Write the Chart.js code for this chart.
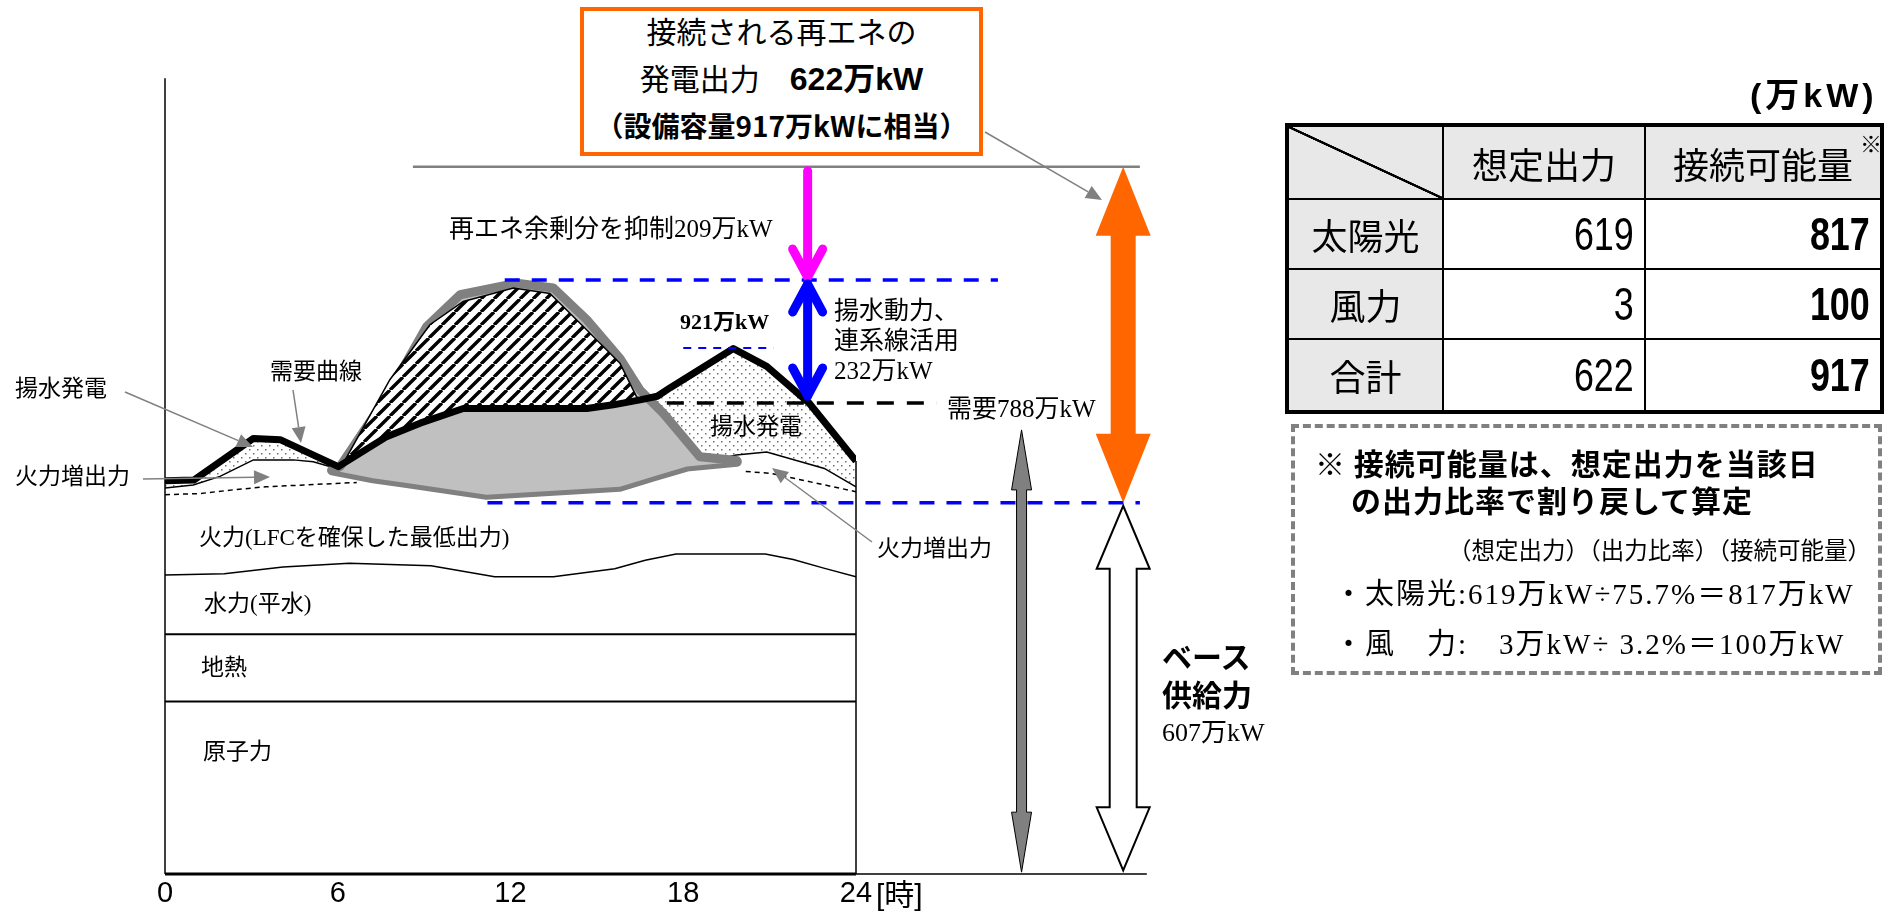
<!DOCTYPE html>
<html lang="ja">
<head>
<meta charset="utf-8">
<title>再エネ接続可能量のイメージ</title>
<script src="https://cdn.jsdelivr.net/npm/chart.js@4.4.1/dist/chart.umd.min.js"></script>
<style>
  html, body { margin: 0; padding: 0; background: #fff; }
  #wrap { position: relative; width: 1885px; height: 917px; overflow: hidden; }
  #chart { position: absolute; left: 0; top: 0; }
  .t { position: absolute; white-space: nowrap; line-height: 1; color: #000; }
  .m { font-family: "Liberation Serif", "Noto Sans CJK JP", serif; }
  .g { font-family: "Noto Sans CJK JP", "Liberation Sans", sans-serif; }
  .n { font-family: "Liberation Sans Narrow", "Liberation Sans", "Noto Sans CJK JP", sans-serif; }
  #renewBox { position: absolute; left: 580px; top: 7px; width: 403px; height: 149px; box-sizing: border-box; border: 4px solid #ff6600; background: #fff; }
  #renewBox div { position: absolute; left: 0; right: 0; text-align: center; white-space: nowrap; font-family: "Noto Sans CJK JP", sans-serif; }
  #capTable { position: absolute; left: 1285px; top: 123px; width: 595px; height: 287px; border-collapse: collapse; table-layout: fixed; border: 4px solid #000; }
  #capTable td { border: 2px solid #000; padding: 0; font-family: "Noto Sans CJK JP", sans-serif; font-size: 36px; text-align: center; background: #fff; }
  #capTable td.h { background: #e8e8e8; }
  #capTable td.diag { background: linear-gradient(to top right, #e8e8e8 calc(50% - 1.5px), #000 calc(50% - 1px), #000 calc(50% + 1px), #e8e8e8 calc(50% + 1.5px)); }
  #capTable td.num { font-family: "Liberation Sans Narrow", "Liberation Sans", sans-serif; font-size: 46px; text-align: right; padding-right: 10px; }
  #capTable td.num span { display: inline-block; transform: scaleX(0.78); transform-origin: right center; }
  #capTable td.bold { font-weight: bold; }
  #note { position: absolute; left: 1291px; top: 424px; width: 591px; height: 251px; box-sizing: border-box; border: 4px dashed #808080; }
</style>
</head>
<body>
<div id="wrap">
  <canvas id="chart" width="1885" height="917"></canvas>

  <!-- labels inside the load curve -->
  <div class="t m" style="left:15px;top:377px;font-size:23px">揚水発電</div>
  <div class="t m" style="left:270px;top:360px;font-size:23px">需要曲線</div>
  <div class="t m" style="left:15px;top:465px;font-size:23px">火力増出力</div>
  <div class="t m" style="left:199px;top:526px;font-size:23px">火力(LFCを確保した最低出力)</div>
  <div class="t m" style="left:204px;top:592px;font-size:23px">水力(平水)</div>
  <div class="t m" style="left:201px;top:656px;font-size:23px">地熱</div>
  <div class="t m" style="left:203px;top:740px;font-size:23px">原子力</div>
  <div class="t m" style="left:449px;top:216px;font-size:25px">再エネ余剰分を抑制209万kW</div>
  <div class="t m" style="left:680px;top:311px;font-size:22px;font-weight:bold">921万kW</div>
  <div class="t m" style="left:834px;top:296px;font-size:25px;line-height:30px">揚水動力、<br>連系線活用<br>232万kW</div>
  <div class="t m" style="left:947px;top:396px;font-size:25px">需要788万kW</div>
  <div class="t m" style="left:710px;top:415px;font-size:23px">揚水発電</div>
  <div class="t m" style="left:877px;top:537px;font-size:23px">火力増出力</div>
  <div class="t g" style="left:1162px;top:636px;font-size:30px;font-weight:bold;line-height:38px">ベース<br>供給力</div>
  <div class="t m" style="left:1162px;top:720px;font-size:26px">607万kW</div>
  <div class="t n" style="left:876px;top:880px;font-size:30px">[時]</div>

  <div id="renewBox">
    <div style="top:4px;font-size:30px;line-height:30px">接続される再エネの</div>
    <div style="top:50px;font-size:30px;line-height:32px">発電出力　<b style="font-size:32px;font-family:'Liberation Sans','Noto Sans CJK JP',sans-serif">622万kW</b></div>
    <div style="top:100px;font-size:28px;line-height:28px;font-weight:bold">（設備容量917万kWに相当）</div>
  </div>

  <div class="t n" style="left:1750px;top:78px;font-size:34px;font-weight:bold;letter-spacing:4px">(万kW)</div>
  <table id="capTable"></table>
  <div class="t g" style="left:1860px;top:131px;font-size:22px">※</div>

  <div id="note"></div>
  <div class="t g" style="left:1315px;top:447px;font-size:30px;font-weight:bold;letter-spacing:1px">※ 接続可能量は、想定出力を当該日</div>
  <div class="t g" style="left:1351px;top:484px;font-size:30px;font-weight:bold;letter-spacing:1px">の出力比率で割り戻して算定</div>
  <div class="t m" style="right:14px;top:540px;font-size:23.5px">（想定出力）（出力比率）（接続可能量）</div>
  <div class="t m" style="left:1334px;top:580px;font-size:29px;letter-spacing:2px">・太陽光:619万kW÷75.7%＝817万kW</div>
  <div class="t m" style="left:1334px;top:630px;font-size:29px;letter-spacing:2px">・風　力:　3万kW÷ 3.2%＝100万kW</div>
</div>

<script>
// x: 時刻 [時], y: 出力 (図の縦位置から読んだ値, 万kW相当)
const hourTicks = [0, 6, 12, 18, 24];

const demandHours  = [0, 1.0, 3.07, 4.0, 6.02, 7.7, 8.86, 10.36, 14.65, 15.57, 16.5, 17.1, 17.55, 19.74, 20.9, 22.37, 24];
const demandValues = [643, 644, 712, 710, 666, 715, 737, 761, 761, 767, 775, 781, 795, 859, 830, 770, 675];

const curtailHours  = [6.2, 7.81, 9.2, 10.36, 12.1, 13.37, 14.53, 15.8, 16.38, 16.6];
const curtailValues = [672, 808, 898, 936, 958, 949, 895, 835, 780, 776];

const solarTopHours  = [6.08, 7.7, 9.09, 10.25, 12.22, 13.49, 14.65, 15.8, 16.5, 17.31, 18.58, 19.86];
const solarTopValues = [666, 780, 895, 947, 966, 958, 906, 843, 791, 753, 682, 676];

const solarBottomHours  = [5.8, 7.23, 8.4, 11.17, 15.8, 16.96, 18.12, 19.86];
const solarBottomValues = [660, 647, 639, 620, 633, 650, 666, 674];

const thermalUpMorningHours  = [0, 0.98, 1.91, 3.07, 4.46, 5.15, 5.96];
const thermalUpMorningValues = [631, 636, 650, 677, 677, 674, 663];
const thermalUpEveningHours  = [16.5, 18.12, 19.84, 20.9, 22.9, 24];
const thermalUpEveningValues = [645, 666, 685, 690, 663, 633];

const thermalMinMorningHours  = [0, 1.22, 2.36, 3.5, 6.66];
const thermalMinMorningValues = [620, 622, 628, 633, 640];
const thermalMinEveningHours  = [20.17, 21.04, 24];
const thermalMinEveningValues = [658, 655, 625];

const hydroHours  = [0, 2.06, 4.1, 6.4, 9.24, 11.45, 13.49, 15.62, 16.68, 17.75, 20.85, 21.82, 22.88, 24];
const hydroValues = [489, 491, 502, 508, 504, 486, 486, 499, 513, 523, 523, 514, 500, 486];

const geoHours = [0, 24], geoValues = [392, 392];
const nuclearHours = [0, 24], nuclearValues = [282, 282];

// levels used by the guide lines and arrows
const baseSupply = 607;
const pumpLimit = 971;
const peakLevel = 860;
const demandLevel = 770;
const renewLevel = 1156;
const axisTop = 1301;
const grayArrow = [3, 726];
const baseArrow = [6, 602];
const guideHours = { curtail: 22.32, gray: 29.75, base: 33.28, axisEnd: 34.1 };

// table
const tableRows = ["太陽光", "風力", "合計"];
const assumedOutput = [619, 3, 622];
const connectable = [817, 100, 917];

(function buildTable(){
  const tb = document.getElementById("capTable");
  let html = '<colgroup><col style="width:156px"><col style="width:202px"><col style="width:237px"></colgroup>';
  html += '<tr style="height:74px"><td class="diag"></td><td class="h">想定出力</td><td class="h">接続可能量</td></tr>';
  tableRows.forEach((r, i) => {
    html += '<tr style="height:' + (i === 2 ? 73 : 70) + 'px"><td class="h">' + r + '</td>' +
      '<td class="num"><span>' + assumedOutput[i] + '</span></td><td class="num bold"><span>' + connectable[i] + '</span></td></tr>';
  });
  tb.innerHTML = html;
})();

const canvas = document.getElementById("chart");
const ctx = canvas.getContext("2d");

function makeDots(){
  const c = document.createElement("canvas"); c.width = 8; c.height = 8;
  const g = c.getContext("2d");
  g.fillStyle = "#fff"; g.fillRect(0, 0, 8, 8);
  g.fillStyle = "#707070";
  g.fillRect(1, 1, 1.5, 1.5); g.fillRect(5, 5, 1.5, 1.5);
  return ctx.createPattern(c, "repeat");
}
function makeHatch(){
  const s = 13;
  const c = document.createElement("canvas"); c.width = s; c.height = s;
  const g = c.getContext("2d");
  g.fillStyle = "#fff"; g.fillRect(0, 0, s, s);
  g.strokeStyle = "#000"; g.lineWidth = 3.4;
  g.beginPath();
  for (const k of [-1, 0, 1]) { g.moveTo(k * s, s); g.lineTo(k * s + s, 0); }
  g.stroke();
  return ctx.createPattern(c, "repeat");
}
const dots = makeDots();
const hatch = makeHatch();
const none = "rgba(0,0,0,0)";

function pts(hours, values){ return hours.map((h, i) => ({ x: h, y: values[i] })); }
function ds(label, hours, values, extra){
  return Object.assign({
    label, data: pts(hours, values), borderColor: "#000", borderWidth: 1.5,
    pointRadius: 0, fill: false, tension: 0
  }, extra || {});
}

function line(c, x1, y1, x2, y2, color, w, dash){
  c.save();
  c.strokeStyle = color; c.lineWidth = w; c.setLineDash(dash || []);
  c.beginPath(); c.moveTo(x1, y1); c.lineTo(x2, y2); c.stroke();
  c.restore();
}
function pointer(c, x1, y1, x2, y2){
  const a = Math.atan2(y2 - y1, x2 - x1), L = 16, W = 7;
  const bx = x2 - L * Math.cos(a), by = y2 - L * Math.sin(a);
  line(c, x1, y1, bx, by, "#808080", 1.5);
  c.save();
  c.fillStyle = "#808080";
  c.beginPath(); c.moveTo(x2, y2);
  c.lineTo(bx + W * Math.sin(a), by - W * Math.cos(a));
  c.lineTo(bx - W * Math.sin(a), by + W * Math.cos(a));
  c.closePath(); c.fill();
  c.restore();
}
function blockArrow(c, cx, top, bot, shaftW, headW, headL, fill, stroke, lw){
  const s = shaftW / 2, h = headW / 2;
  c.save();
  c.beginPath();
  c.moveTo(cx, top);
  c.lineTo(cx + h, top + headL); c.lineTo(cx + s, top + headL);
  c.lineTo(cx + s, bot - headL); c.lineTo(cx + h, bot - headL);
  c.lineTo(cx, bot);
  c.lineTo(cx - h, bot - headL); c.lineTo(cx - s, bot - headL);
  c.lineTo(cx - s, top + headL); c.lineTo(cx - h, top + headL);
  c.closePath();
  c.fillStyle = fill; c.fill();
  if (stroke) { c.strokeStyle = stroke; c.lineWidth = lw; c.stroke(); }
  c.restore();
}
function chevron(c, x, tipY, dir, color){
  // dir = 1 points down, -1 points up
  c.save();
  c.strokeStyle = color; c.lineWidth = 9; c.lineCap = "round"; c.lineJoin = "round";
  c.beginPath();
  c.moveTo(x - 15, tipY - dir * 28); c.lineTo(x, tipY); c.lineTo(x + 15, tipY - dir * 28);
  c.stroke();
  c.restore();
}

const overlay = {
  id: "overlay",
  afterDatasetsDraw(chart){
    const c = chart.ctx;
    const { x, y } = chart.scales;
    const px = h => x.getPixelForValue(h);
    const py = v => y.getPixelForValue(v);

    // axes and frame
    line(c, px(0), py(0), px(0), py(axisTop), "#000", 1.5);
    line(c, px(0), py(0), px(24), py(0), "#000", 3);
    line(c, px(24), py(0), px(guideHours.axisEnd), py(0), "#000", 1.5);
    line(c, px(24), py(0), px(24), py(demandValues[demandValues.length - 1]), "#000", 1.5);

    // guide lines
    line(c, px(8.61), py(renewLevel), px(33.86), py(renewLevel), "#808080", 2.5);
    line(c, px(11.8), py(pumpLimit), px(28.93), py(pumpLimit), "#0000ff", 3.5, [15, 12]);
    line(c, px(11.2), py(baseSupply), px(33.86), py(baseSupply), "#0000ff", 3.5, [15, 12]);
    line(c, px(18.0), py(peakLevel), px(21.13), py(peakLevel), "#0000ff", 2, [8, 7]);
    line(c, px(17.43), py(demandLevel), px(26.81), py(demandLevel), "#000", 3.5, [17, 13]);

    // curtailment arrow (magenta)
    const cx = px(guideHours.curtail);
    c.save(); c.strokeStyle = "#ff00ff"; c.lineWidth = 9; c.lineCap = "round";
    c.beginPath(); c.moveTo(cx, py(renewLevel) + 4); c.lineTo(cx, py(pumpLimit) - 3); c.stroke(); c.restore();
    chevron(c, cx, py(pumpLimit) - 3, 1, "#ff00ff");

    // pumping / interconnection arrow (blue)
    const bt = py(pumpLimit) + 4, bb = py(demandLevel) - 7;
    c.save(); c.strokeStyle = "#0000ff"; c.lineWidth = 9; c.lineCap = "round";
    c.beginPath(); c.moveTo(cx, bt); c.lineTo(cx, bb); c.stroke(); c.restore();
    chevron(c, cx, bt, -1, "#0000ff");
    chevron(c, cx, bb, 1, "#0000ff");

    // big arrows on the right
    blockArrow(c, px(guideHours.base), py(renewLevel), py(baseSupply), 25, 55, 69, "#ff6600");
    blockArrow(c, px(guideHours.gray), py(grayArrow[1]), py(grayArrow[0]), 10, 20, 60, "#808080", "#000", 1);
    blockArrow(c, px(guideHours.base), py(baseArrow[1]), py(baseArrow[0]), 27, 53, 63, "#fff", "#000", 2);

    // callouts
    pointer(c, 125, 392, 253, 447);
    pointer(c, 293, 390, 301, 443);
    pointer(c, 143, 479, 270, 477);
    pointer(c, 872, 542, 772, 468);
    pointer(c, 985, 132, 1102, 200);
  }
};

new Chart(ctx, {
  type: "line",
  data: {
    datasets: [
      ds("需要曲線", demandHours, demandValues, { borderWidth: 7, borderJoinStyle: "round" }),
      ds("再エネ抑制分", curtailHours, curtailValues, { fill: { target: 0, above: hatch, below: none } }),
      ds("再エネ出力(上)", solarTopHours, solarTopValues, {
        borderColor: "#808080", borderWidth: 9, borderJoinStyle: "round", borderCapStyle: "round",
        fill: { target: 3, above: "#c0c0c0", below: "#c0c0c0" }
      }),
      ds("再エネ出力(下)", solarBottomHours, solarBottomValues, {
        borderColor: "#808080", borderWidth: 10, borderJoinStyle: "round", borderCapStyle: "round"
      }),
      ds("揚水発電(夕)", thermalUpEveningHours, thermalUpEveningValues, { fill: { target: 0, above: none, below: dots } }),
      ds("揚水発電(朝)", thermalUpMorningHours, thermalUpMorningValues, { fill: { target: 0, above: none, below: dots } }),
      ds("火力最低出力(夕)", thermalMinEveningHours, thermalMinEveningValues, { borderDash: [5, 4] }),
      ds("火力最低出力(朝)", thermalMinMorningHours, thermalMinMorningValues, { borderDash: [5, 4] }),
      ds("水力", hydroHours, hydroValues),
      ds("地熱", geoHours, geoValues, { borderWidth: 2 }),
      ds("原子力", nuclearHours, nuclearValues, { borderWidth: 2 })
    ]
  },
  options: {
    responsive: false,
    animation: false,
    events: [],
    layout: { padding: { left: 165, right: 1029, top: 0, bottom: 0 } },
    scales: {
      x: {
        type: "linear", min: 0, max: 24,
        afterBuildTicks: s => { s.ticks = hourTicks.map(v => ({ value: v })); },
        afterFit: s => { s.height = 43; },
        ticks: { color: "#000", padding: 3, maxRotation: 0, autoSkip: false,
                 font: { family: "'Liberation Sans Narrow', 'Liberation Sans', sans-serif", size: 29 } },
        grid: { display: false, drawTicks: false },
        border: { display: false }
      },
      y: { display: false, min: 0, max: 1428.8 }
    },
    plugins: { legend: { display: false }, tooltip: { enabled: false } }
  },
  plugins: [overlay]
});
</script>
</body>
</html>
